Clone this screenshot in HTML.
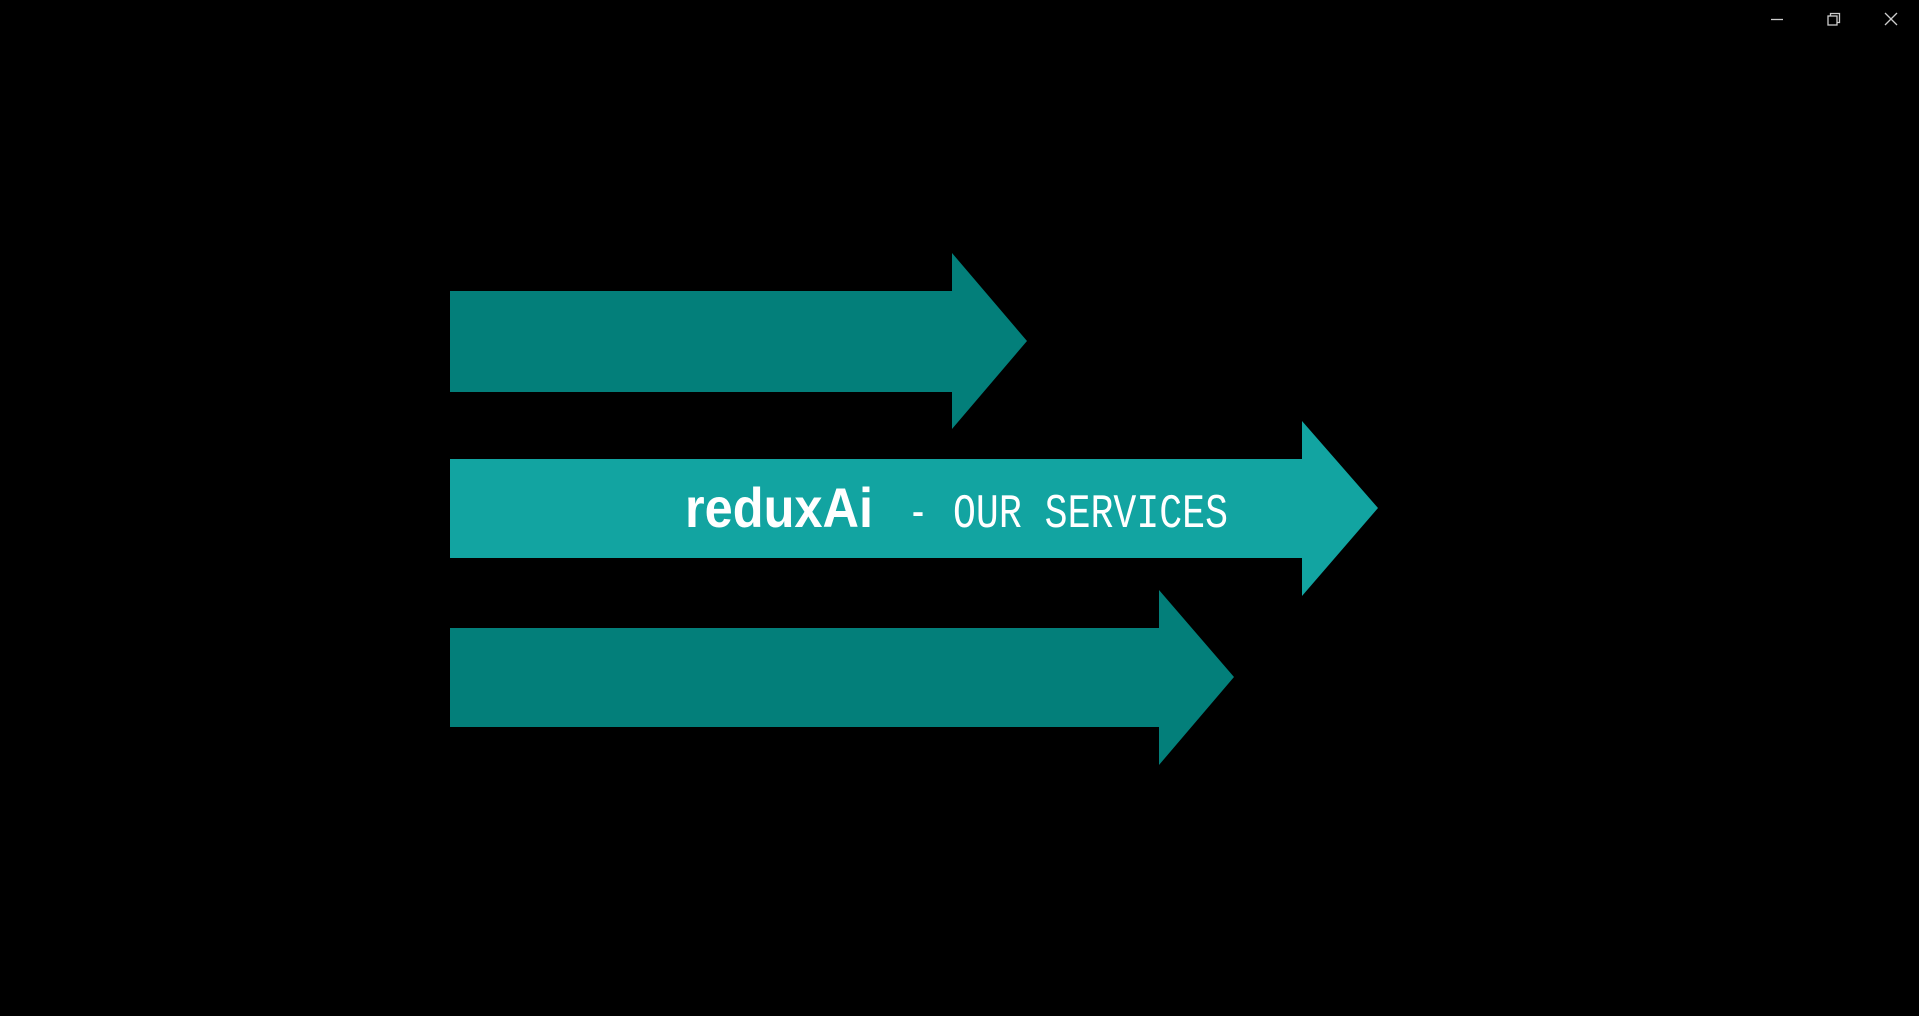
<!DOCTYPE html>
<html><head><meta charset="utf-8"><style>
html,body{margin:0;padding:0;background:#000;width:1919px;height:1016px;overflow:hidden}
</style></head><body>
<svg width="1919" height="1016" viewBox="0 0 1919 1016" xmlns="http://www.w3.org/2000/svg">
<rect width="1919" height="1016" fill="#000"/>
<polygon points="450,291 952,291 952,253 1027,341 952,429 952,392 450,392" fill="#037f7a"/>
<polygon points="450,459 1302,459 1302,421 1378,508 1302,596 1302,558 450,558" fill="#12a4a1"/>
<polygon points="450,628 1159,628 1159,590 1234,677 1159,765 1159,727 450,727" fill="#037f7a"/>
<text x="685" y="527" font-family="Liberation Sans, sans-serif" font-weight="bold" font-size="56" fill="#fff" textLength="188" lengthAdjust="spacingAndGlyphs">reduxAi</text>
<text x="908" y="527" font-family="Liberation Mono, monospace" font-size="48" fill="#fff" textLength="20" lengthAdjust="spacingAndGlyphs">-</text>
<text x="953" y="527" font-family="Liberation Mono, monospace" font-size="48" fill="#fff" textLength="275" lengthAdjust="spacingAndGlyphs">OUR SERVICES</text>
<line x1="1771" y1="19.5" x2="1783" y2="19.5" stroke="#ccc" stroke-width="1.3"/>
<rect x="1828" y="16" width="9" height="9" fill="none" stroke="#ccc" stroke-width="1.3"/>
<path d="M1830.5 16 V13.5 H1839.5 V22.5 H1837" fill="none" stroke="#ccc" stroke-width="1.3"/>
<path d="M1885 13 L1897 25 M1897 13 L1885 25" stroke="#ccc" stroke-width="1.3"/>
</svg>
</body></html>
